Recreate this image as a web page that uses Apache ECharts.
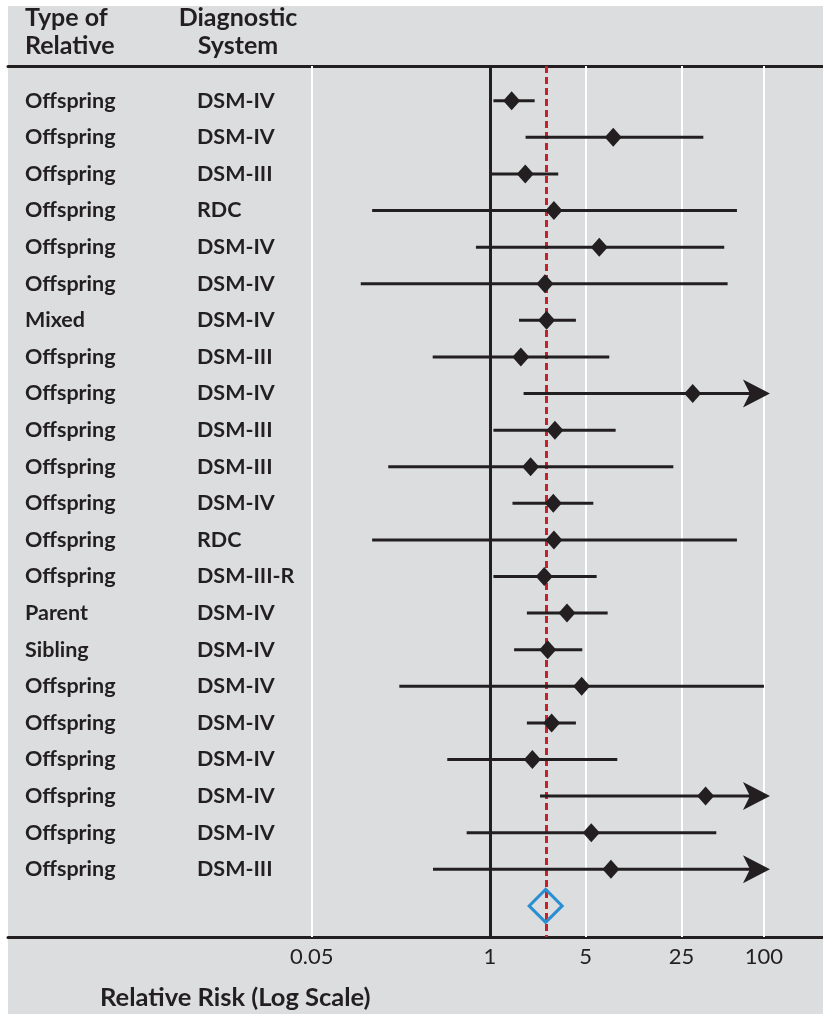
<!DOCTYPE html>
<html>
<head>
<meta charset="utf-8">
<script src="https://cdn.jsdelivr.net/npm/echarts@6/dist/echarts.min.js"></script>
<style>
  html, body { margin: 0; padding: 0; background: #ffffff; }
  #chart { width: 823px; height: 1014px; }
</style>
</head>
<body>
<div id="chart"></div>
<script>
// Studies of familial risk, one row per study (top to bottom)
const relativeType = ['Offspring', 'Offspring', 'Offspring', 'Offspring', 'Offspring', 'Offspring', 'Mixed',
  'Offspring', 'Offspring', 'Offspring', 'Offspring', 'Offspring', 'Offspring', 'Offspring', 'Parent', 'Sibling',
  'Offspring', 'Offspring', 'Offspring', 'Offspring', 'Offspring', 'Offspring'];
const diagnosticSystem = ['DSM-IV', 'DSM-IV', 'DSM-III', 'RDC', 'DSM-IV', 'DSM-IV', 'DSM-IV',
  'DSM-III', 'DSM-IV', 'DSM-III', 'DSM-III', 'DSM-IV', 'RDC', 'DSM-III-R', 'DSM-IV', 'DSM-IV',
  'DSM-IV', 'DSM-IV', 'DSM-IV', 'DSM-IV', 'DSM-IV', 'DSM-III'];
const riskEstimate = [1.44, 7.94, 1.81, 2.93, 6.28, 2.52, 2.59, 1.68, 30.2, 2.98, 1.98, 2.90, 2.93, 2.49,
  3.65, 2.64, 4.67, 2.82, 2.04, 37.5, 5.49, 7.64];
const ciLower = [1.06, 1.82, 1.01, 0.138, 0.79, 0.114, 1.63, 0.382, 1.76, 1.06, 0.181, 1.46, 0.138, 1.06,
  1.86, 1.50, 0.218, 1.86, 0.488, 2.32, 0.676, 0.384];
const ciUpper = [2.12, 36.1, 3.15, 63.5, 51.3, 54.3, 4.24, 7.43, 140, 8.27, 21.8, 5.68, 63.5, 6.01,
  7.23, 4.72, 100, 4.24, 8.50, 150, 44.9, 120];
const pooledRisk = 2.55;

// Axis ticks (relative risk, log scale)
const tickValues = [0.05, 1, 5, 25, 100];
const tickLabels = ['0.05', '1', '5', '25', '100'];
const gridLineValues = [0.05, 5, 25, 100];
const axisCap = 100;           // intervals beyond this are truncated with an arrow

const INK = '#231f20';
const FONT = 'Lato, "Open Sans", sans-serif';
const lg = Math.log10;

const nRows = riskEstimate.length;
const pooledRow = nRows;

const chart = echarts.init(document.getElementById('chart'), null, { renderer: 'canvas' });

const intervalData = riskEstimate.map((_, i) => [i, lg(ciLower[i]), lg(ciUpper[i])]);
const pointData = riskEstimate.map((v, i) => [lg(v), i]);

function labelFor(v) {
  const k = tickValues.findIndex(t => Math.abs(lg(t) - v) < 1e-6);
  return k >= 0 ? tickLabels[k] : '';
}

const xMin = -3.518, xMax = 2.431;

chart.setOption({
  backgroundColor: '#ffffff',
  animation: false,
  graphic: [
    { type: 'rect', z: -10, silent: true, shape: { x: 8, y: 6, width: 815, height: 1008 }, style: { fill: '#dcdddf' } },
    { type: 'text', left: 25, top: 4, style: { text: 'Type of\nRelative', fill: INK, font: 'bold 25px ' + FONT, lineHeight: 28, textAlign: 'left' } },
    { type: 'text', x: 238, y: 4, style: { text: 'Diagnostic\nSystem', fill: INK, font: 'bold 25px ' + FONT, lineHeight: 28, align: 'center' } },
    { type: 'text', left: 100, top: 985, style: { text: 'Relative Risk (Log Scale)', fill: INK, font: 'bold 25.5px ' + FONT } }
  ],
  grid: { left: 8, right: 0, top: 66, bottom: 77 },
  xAxis: [
    {
      type: 'value', min: xMin, max: xMax, position: 'bottom',
      axisLine: { show: true, onZero: false, lineStyle: { color: INK, width: 3 } },
      axisTick: { show: false },
      splitLine: { show: false },
      axisLabel: {
        customValues: tickValues.map(lg),
        formatter: labelFor,
        color: INK, fontFamily: FONT, fontSize: 22, margin: 9
      }
    },
    {
      type: 'value', min: xMin, max: xMax, position: 'top',
      axisLine: { show: true, onZero: false, lineStyle: { color: INK, width: 3 } },
      axisTick: { show: false }, axisLabel: { show: false }, splitLine: { show: false }
    }
  ],
  yAxis: {
    type: 'value', inverse: true, min: -0.95, max: pooledRow + 0.85,
    axisLine: { show: false }, axisTick: { show: false }, splitLine: { show: false },
    axisLabel: {
      inside: true, margin: 17,
      customValues: relativeType.map((_, i) => i),
      formatter: (v) => '{a|' + relativeType[v] + '}{b|' + diagnosticSystem[v] + '}',
      rich: {
        a: { width: 172, color: INK, fontFamily: FONT, fontSize: 21.5, fontWeight: 'bold' },
        b: { color: INK, fontFamily: FONT, fontSize: 21.5, fontWeight: 'bold' }
      }
    }
  },
  series: [
    {
      // reference lines: grid lines, null effect, pooled estimate
      type: 'scatter', data: [], silent: true,
      markLine: {
        z: 1, silent: true, symbol: 'none', label: { show: false },
        data: [
          ...gridLineValues.map(v => ({ xAxis: lg(v), lineStyle: { color: '#ffffff', width: 2, type: 'solid' } })),
          { xAxis: lg(1), lineStyle: { color: INK, width: 3, type: 'solid' } },
          { xAxis: lg(pooledRisk), lineStyle: { color: '#c8202a', width: 3, type: [7, 4] } }
        ]
      }
    },
    {
      // confidence intervals
      type: 'custom', z: 2, silent: true,
      data: intervalData,
      renderItem: (params, api) => {
        const row = api.value(0);
        const lo = api.value(1);
        const hi = api.value(2);
        const cap = lg(axisCap);
        const p1 = api.coord([lo, row]);
        const p2 = api.coord([Math.min(hi, cap), row]);
        const children = [{
          type: 'line',
          shape: { x1: p1[0], y1: p1[1], x2: p2[0], y2: p2[1] },
          style: { stroke: INK, lineWidth: 3 }
        }];
        if (hi > cap) {
          const tip = p2[0] + 6, y = p2[1];
          children.push({
            type: 'polygon',
            shape: { points: [[tip, y], [tip - 27, y - 14], [tip - 20, y], [tip - 27, y + 14]] },
            style: { fill: INK }
          });
        }
        return { type: 'group', children };
      }
    },
    {
      type: 'scatter', z: 3, silent: true,
      data: pointData,
      symbol: 'diamond', symbolSize: [17, 19],
      itemStyle: { color: INK, opacity: 1 }
    },
    {
      type: 'scatter', z: 3, silent: true,
      data: [[lg(pooledRisk), pooledRow]],
      symbol: 'diamond', symbolSize: [33, 33],
      itemStyle: { color: 'rgba(0,0,0,0)', borderColor: '#2a8fd2', borderWidth: 3, opacity: 1 }
    }
  ]
});
</script>
</body>
</html>
